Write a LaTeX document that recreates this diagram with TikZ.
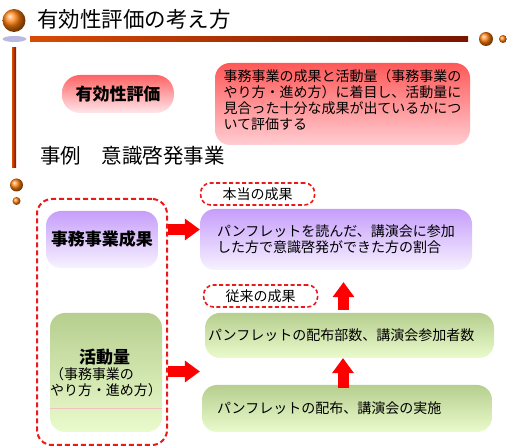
\documentclass[tikz,border=0pt]{standalone}
\usepackage{fontspec}
\setmainfont{Noto Sans CJK JP}
\usepackage{tikz}
\usetikzlibrary{arrows.meta, positioning, calc}
\definecolor{evalred}{RGB}{255, 100, 100}
\definecolor{evalpink}{RGB}{255, 230, 235}
\definecolor{descred}{RGB}{255, 88, 88}
\definecolor{descpink}{RGB}{255, 205, 210}
\definecolor{resultpurple}{RGB}{198, 158, 250}
\definecolor{resultlight}{RGB}{247, 242, 255}
\definecolor{actgreen}{RGB}{182, 206, 143}
\definecolor{actlight}{RGB}{234, 251, 204}
\definecolor{barorange}{RGB}{255, 150, 50}
\definecolor{barred}{RGB}{215, 75, 5}
\definecolor{bardark}{RGB}{120, 20, 0}
\definecolor{ballorange}{RGB}{255, 125, 10}
\definecolor{shadowblue}{RGB}{185, 185, 225}
\definecolor{dashred}{RGB}{235, 25, 25}
\definecolor{arrowred}{RGB}{255, 0, 0}
\definecolor{seampink}{RGB}{240, 195, 190}
\tikzset{
    block/.style={rectangle, rounded corners=15pt, draw=none, inner sep=0pt,
        align=center, font=\fontsize{14}{16}\selectfont},
    evalbox/.style={block, top color=evalred, bottom color=evalpink},
    descbox/.style={block, top color=descred, bottom color=descpink},
    workbox/.style={block, top color=resultpurple, bottom color=resultlight},
    actbox/.style={block, top color=actgreen, bottom color=actlight},
    headtext/.style={font=\fontsize{17}{20}\selectfont\bfseries},
    frame/.style={rectangle, rounded corners=15pt, draw=dashred, line width=2pt,
        dash pattern=on 5pt off 3pt},
    tag/.style={rectangle, rounded corners=10pt, draw=dashred, line width=1.6pt,
        dash pattern=on 4pt off 2.5pt, minimum width=114pt, minimum height=22pt,
        inner sep=0pt, font=\fontsize{14}{16}\selectfont},
    bigarrow/.style={draw=arrowred, line width=11pt,
        -{Triangle[width=22pt, length=15pt, line width=0pt]}},
}

\begin{document}
\begin{tikzpicture}[x=1pt, y=-1pt]
    \useasboundingbox (0,0) rectangle (507,446);
    % title
    \shade[ball color=ballorange] (14,20.5) circle (11.5);
    \fill[shadowblue] (14.5,39) ellipse (12 and 3);
    \node[anchor=west, inner sep=0pt, font=\fontsize{21.5}{24}\selectfont] (title) at (37,19) {有効性評価の考え方};
    \shade[left color=barred, middle color=barorange, right color=bardark] (30,36.5) rectangle (468,41.5);
    \shade[ball color=ballorange] (486,39) circle (7);
    \shade[ball color=ballorange] (503,39) circle (4);
    \shade[left color=barred, middle color=barorange, right color=bardark] (12,48) rectangle (16,168);

    \node[evalbox, headtext, rounded corners=18pt, minimum width=112pt, minimum height=38pt] (eval) at (118,94) {有効性評価};
    \node[descbox, align=left, minimum width=255pt, minimum height=82pt] (desc) at (342.5,104)
        {事務事業の成果と活動量（事務事業の\\やり方・進め方）に着目し、活動量に\\見合った十分な成果が出ているかにつ\\いて評価する\\[-8pt]};
    \node[anchor=west, inner sep=0pt, font=\fontsize{20.5}{24}\selectfont] (case) at (40,156) {事例　意識啓発事業};

    % example
    \shade[ball color=ballorange] (16.5,185) circle (6.5);
    \shade[ball color=ballorange] (16.5,201) circle (4);
    \node[frame, minimum width=130pt, minimum height=246pt] (frame) at (102,322) {};
    \node[workbox, headtext, minimum width=112pt, minimum height=57pt] (work) at (102,239.5) {事務事業成果};
    \node[actbox, align=left, minimum width=112pt, minimum height=119pt] (actv) at (106,372.5)
        {\hspace*{29pt}{\fontsize{17}{20}\selectfont\bfseries 活動量}\\（事務事業の\\やり方・進め方）};
    \draw[seampink, line width=0.8pt] ($(actv.west)+(0,35.5)$) -- ($(actv.east)+(0,35.5)$);

    \node[workbox, align=left, minimum width=272pt, minimum height=61pt] (truebox) at (336,239.5)
        {パンフレットを読んだ、講演会に参加\\した方で意識啓発ができた方の割合};
    \node[actbox, align=left, text width=283pt, minimum width=289pt, minimum height=45pt] (count) at (349.5,335.5)
        {パンフレットの配布部数、講演会参加者数};
    \node[actbox, align=left, text width=260pt, minimum width=290pt, minimum height=47pt] (deliver) at (347,408.5)
        {パンフレットの配布、講演会の実施};
    \node[tag, above right=3pt and 0pt of truebox.north west] (truetag) {本当の成果};
    \node[tag, above right=5pt and -2pt of count.north west] (oldtag) {従来の成果};

    \coordinate (gap) at ($(count.south)!0.5!(deliver.north)$);
    \draw[bigarrow] ($(frame.east |- truebox.west)+(0,-10)$) -- ($(truebox.west)+(0,-10)$);
    \draw[bigarrow] (frame.east |- gap) -- (gap -| truebox.west);
    \draw[bigarrow] ($(deliver.north)+(-4,3)$) -- ($(deliver.north |- count.south)+(-4,0)$);
    \draw[bigarrow] ($(count.north)+(-6,-3)$) -- ($(count.north |- truebox.south)+(-6,12)$);
\end{tikzpicture}
\end{document}
